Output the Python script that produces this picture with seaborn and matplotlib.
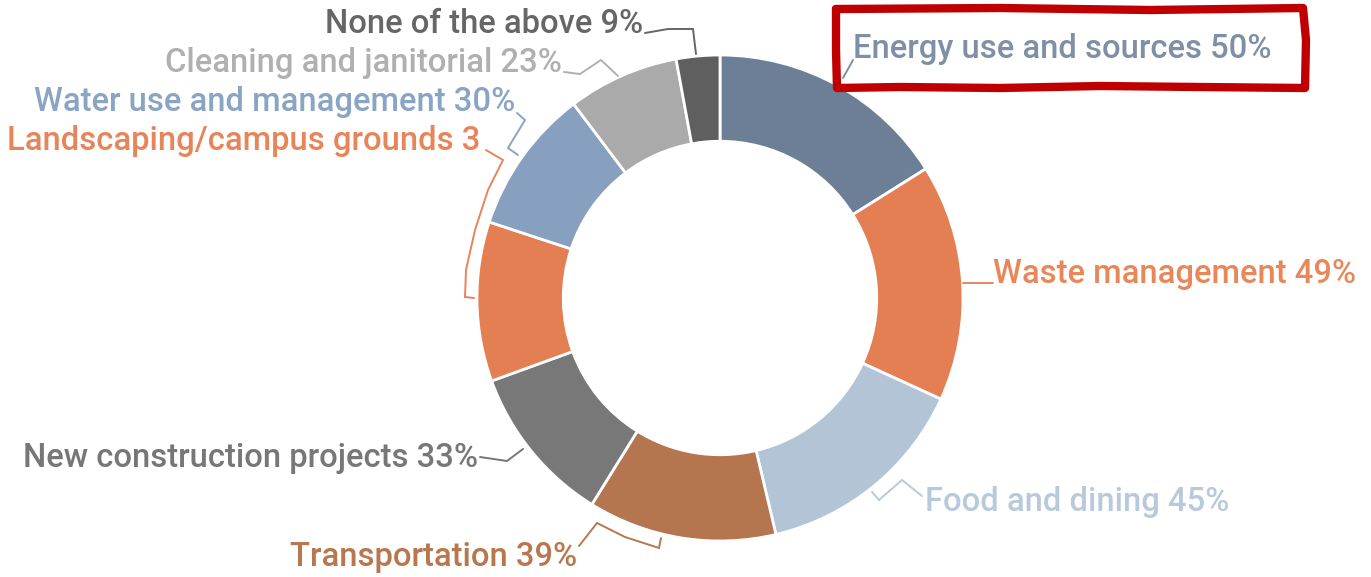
import matplotlib
matplotlib.use("Agg")
import matplotlib.pyplot as plt
import seaborn as sns
import numpy as np

categories = ["Energy use and sources", "Waste management", "Food and dining",
              "Transportation", "New construction projects", "Landscaping/campus grounds",
              "Water use and management", "Cleaning and janitorial", "None of the above"]
values = [50, 49, 45, 39, 33, 33, 30, 23, 9]
label_texts = ["Energy use and sources 50%", "Waste management 49%", "Food and dining 45%",
               "Transportation 39%", "New construction projects 33%", "Landscaping/campus grounds 3",
               "Water use and management 30%", "Cleaning and janitorial 23%", "None of the above 9%"]
wedge_colors = ["#6c7f96", "#e37f52", "#b3c4d7", "#b5754f", "#787878",
                "#e37f52", "#87a0bf", "#aaaaaa", "#5f5f5f"]
text_colors = ["#7f8fa5", "#e8875a", "#b9c9dc", "#b7774f", "#777777",
               "#e8845a", "#8aa4c4", "#b0b0b0", "#666666"]

sns.set_theme(style="white")
plt.rcParams['font.family'] = ['Roboto', 'DejaVu Sans']

W, H = 1371, 577
fig = plt.figure(figsize=(W / 100, H / 100), dpi=100)
ax = fig.add_axes([0, 0, 1, 1])

def P(x, y):
    return (x, H - y)

cx, cy = P(720, 298)
R = 243
ax.pie(values, colors=wedge_colors, startangle=90, counterclock=False,
       center=(cx, cy), radius=R,
       wedgeprops=dict(width=R * 0.355, edgecolor="white", linewidth=2))
ax.set_xlim(0, W)
ax.set_ylim(0, H)
ax.set_aspect("equal")
ax.axis("off")

# label layout (pixel positions, top-left origin): x, baseline y, horizontal alignment
layout = [(853, 58, "left"), (993, 283, "left"), (925, 511, "left"),
          (577, 566, "right"), (478, 467, "right"), (480, 150, "right"),
          (515, 111, "right"), (562, 72, "right"), (643, 33, "right")]
for (x, y, ha), txt, col in zip(layout, label_texts, text_colors):
    ax.text(*P(x, y), txt, ha=ha, va="baseline", fontsize=23.6, fontweight="medium",
            color=col)

# leader lines
leaders = [
    [(843, 78), (853, 60)],
    [(963, 283), (993, 283)],
    [(872, 492), (879, 500), (902, 480), (922, 496)],
    [(579, 546), (597, 523), (625, 537), (659, 548), (661, 538)],
    [(480, 457), (507, 461), (523, 449)],
    [(486, 150), (503, 160), (488, 190), (475, 230), (466, 270), (465, 297), (474, 298)],
    [(517, 113), (525, 120), (508, 148), (518, 155)],
    [(564, 72), (580, 74), (601, 60), (618, 76)],
    [(645, 33), (668, 29), (693, 29), (696, 54)],
]
for pts, col in zip(leaders, text_colors):
    xs, ys = zip(*[P(px, py) for px, py in pts])
    ax.plot(xs, ys, color=col, lw=1.4, solid_joinstyle="miter")

# hand-drawn red highlight box around the top label
box = [(836, 9), (1000, 8), (1150, 10), (1303, 8), (1306, 40), (1305, 88),
       (1200, 87), (1100, 86), (1000, 88), (900, 87), (837, 88), (836, 50), (836, 9)]
bx, by = zip(*[P(px, py) for px, py in box])
ax.plot(bx, by, color="#c00000", lw=6, solid_joinstyle="round", solid_capstyle="round")

fig.savefig("out.png", dpi=100)
